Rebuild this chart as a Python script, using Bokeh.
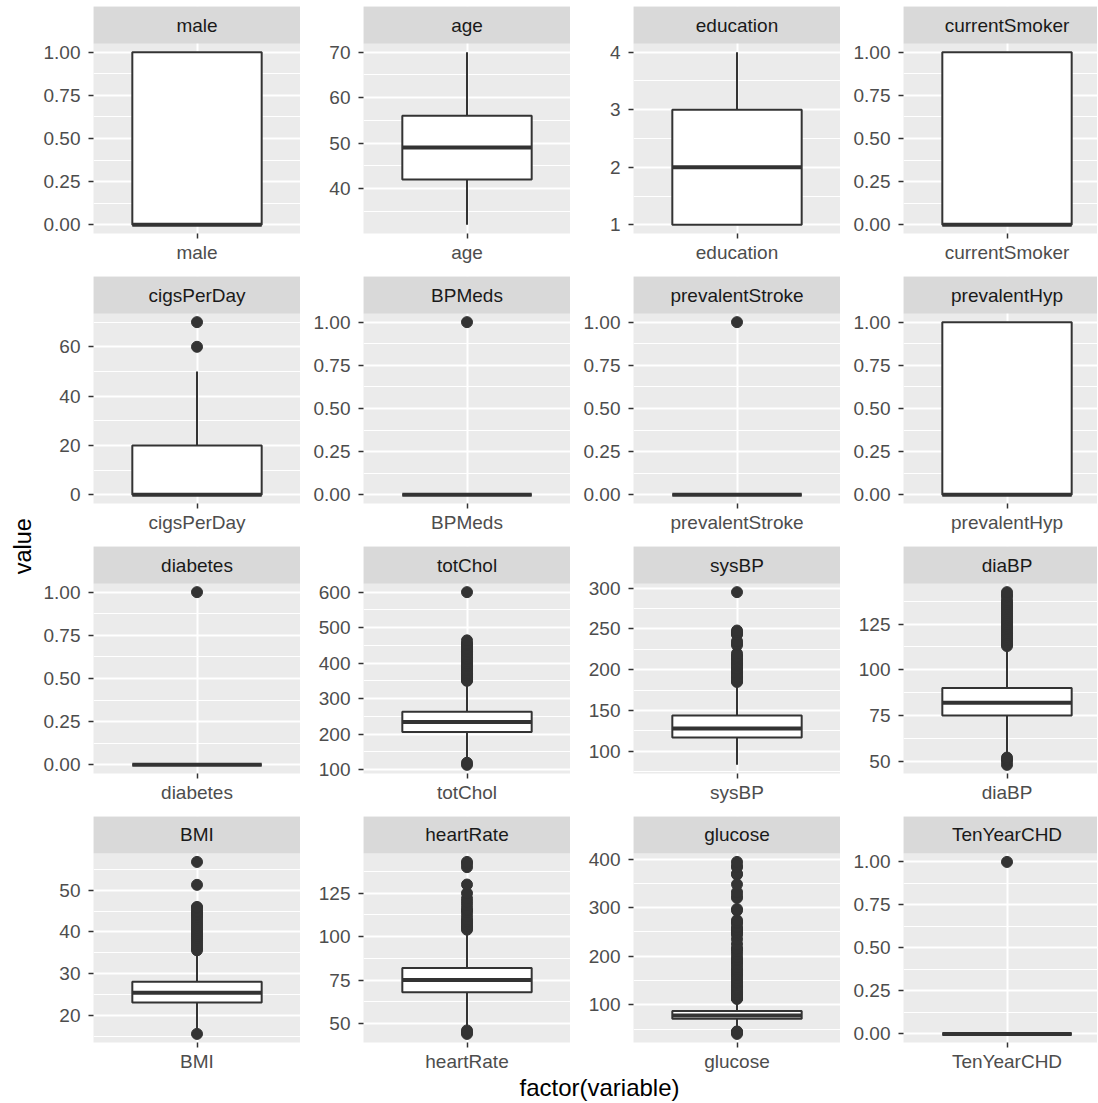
import math
from bokeh.plotting import figure
from bokeh.layouts import row, column
from bokeh.models import Range1d, FixedTicker, PrintfTickFormatter, Label
from bokeh.embed import file_html
from bokeh.resources import INLINE

# ---------------- data ----------------
variables = ["male", "age", "education", "currentSmoker",
             "cigsPerDay", "BPMeds", "prevalentStroke", "prevalentHyp",
             "diabetes", "totChol", "sysBP", "diaBP",
             "BMI", "heartRate", "glucose", "TenYearCHD"]

lower_whisker = [0, 32, 1, 0, 0, 0, 0, 0, 0, 126, 83.5, 53, 15.96, 47, 47, 0]
q1            = [0, 42, 1, 0, 0, 0, 0, 0, 0, 206, 117, 75, 23.07, 68, 71, 0]
median        = [0, 49, 2, 0, 0, 0, 0, 0, 0, 234, 128, 82, 25.4, 75, 78, 0]
q3            = [1, 56, 3, 1, 20, 0, 0, 1, 0, 263, 144, 90, 28.04, 82, 87, 0]
upper_whisker = [1, 70, 4, 1, 50, 0, 0, 1, 0, 348, 184.5, 112.5, 35.5, 103, 111, 0]

outliers = [
    [],                                   # male
    [],                                   # age
    [],                                   # education
    [],                                   # currentSmoker
    [60, 70],                             # cigsPerDay
    [1],                                  # BPMeds
    [1],                                  # prevalentStroke
    [],                                   # prevalentHyp
    [1],                                  # diabetes
    [113, 119, 350, 352, 354, 355, 358, 360, 362, 363, 366, 367, 368, 370,
     371, 372, 375, 380, 382, 385, 390, 391, 392, 393, 398, 400, 405, 410,
     412, 415, 420, 425, 430, 432, 433, 439, 443, 450, 453, 455, 464, 600],  # totChol
    [185, 186, 187, 188, 189, 190, 191, 192, 193, 194, 195, 196, 197, 198,
     199, 200, 201, 202, 204, 205, 206, 207, 208, 209, 210, 212, 213, 214,
     215, 216, 217, 220, 230, 232, 235, 243, 244, 246, 248, 295],          # sysBP
    [48, 50, 51, 52, 113, 114, 115, 116, 117, 118, 119, 120, 121, 122, 123,
     124, 125, 126, 127, 128, 129, 130, 131, 132, 133, 134, 135, 136, 137,
     138, 140, 141, 142.5],                                                # diaBP
    [15.54, 35.6, 36, 36.5, 37, 37.5, 38, 38.5, 39, 39.5, 40, 40.5, 41,
     41.5, 42, 42.5, 43, 43.5, 44, 44.3, 44.7, 45, 45.8, 46, 51.3, 56.8],   # BMI
    [44, 45, 46, 104, 105, 106, 107, 108, 109, 110, 112, 114, 115, 116, 118,
     120, 122, 125, 130, 140, 142, 143],                                   # heartRate
    [40, 43, 44, 45, 112, 113, 114, 115, 116, 117, 118, 119, 120, 121, 122,
     123, 124, 125, 126, 127, 130, 132, 135, 137, 140, 145, 147, 150, 155,
     160, 163, 166, 170, 173, 177, 183, 186, 191, 193, 198, 205, 210, 215,
     216, 225, 235, 244, 248, 250, 254, 255, 260, 268, 270, 274, 294, 297,
     320, 325, 332, 348, 368, 370, 383, 386, 394],                         # glucose
    [1],                                  # TenYearCHD
]

binary_ticks = [0, 0.25, 0.5, 0.75, 1]
y_ticks = [binary_ticks, [40, 50, 60, 70], [1, 2, 3, 4], binary_ticks,
           [0, 20, 40, 60], binary_ticks, binary_ticks, binary_ticks,
           binary_ticks, [100, 200, 300, 400, 500, 600], [100, 150, 200, 250, 300], [50, 75, 100, 125],
           [20, 30, 40, 50], [50, 75, 100, 125], [100, 200, 300, 400], binary_ticks]
y_formats = ["%.2f" if t is binary_ticks else "%d" for t in y_ticks]

# ---------------- style ----------------
FONT = "Liberation Sans"
PANEL_BG = "#EBEBEB"
STRIP_BG = "#D9D9D9"
INK = "#333333"
TICK_TXT = "#4D4D4D"
TXT_SIZE = "19px"

PANEL_W = 207
LAST_W = 194          # last column is cut by the right edge of the picture
PANEL_H = 190
STRIP_H = 37
BOX_W = 0.75
LEFT_W = [57, 63, 63, 63]
TOP_PAD = 6
BOTTOM_H = [43, 43, 43, 31]


def frame_w(c):
    return PANEL_W if c < 3 else LAST_W


def minor_ticks(majors, lo, hi):
    step = majors[1] - majors[0]
    cands = [majors[0] - step / 2] + [m + step / 2 for m in majors]
    return [m for m in cands if lo <= m <= hi]


def make_panel(i, r, c):
    left = LEFT_W[c]
    fw = frame_w(c)
    bottom = BOTTOM_H[r]
    top = TOP_PAD if r == 0 else 0
    x_end = 0.4 + 1.2 * fw / PANEL_W
    vals = [lower_whisker[i], upper_whisker[i]] + outliers[i]
    lo, hi = min(vals), max(vals)
    span = hi - lo
    ylo, yhi = lo - 0.05 * span, hi + 0.05 * span
    # the facet strip sits on top of the panel, inside the same frame
    y_end = yhi + STRIP_H * (yhi - ylo) / PANEL_H

    p = figure(width=left + fw, height=top + STRIP_H + PANEL_H + bottom,
               x_range=Range1d(0.4, x_end), y_range=Range1d(ylo, y_end),
               toolbar_location=None, output_backend="svg",
               min_border_left=left, min_border_right=0, min_border_top=top,
               min_border_bottom=bottom,
               background_fill_color=PANEL_BG, border_fill_color="white",
               outline_line_color=None)

    yt = FixedTicker(ticks=y_ticks[i], minor_ticks=minor_ticks(y_ticks[i], ylo, yhi))
    xt = FixedTicker(ticks=[1])
    p.yaxis.ticker = yt
    p.ygrid.ticker = yt
    p.xaxis.ticker = xt
    p.xgrid.ticker = xt
    p.yaxis.formatter = PrintfTickFormatter(format=y_formats[i])
    p.xaxis.major_label_overrides = {1: variables[i]}

    for ax in (p.xaxis, p.yaxis):
        ax.axis_line_color = None
        ax.major_tick_line_color = INK
        ax.major_tick_line_width = 1.5
        ax.major_tick_in = 0
        ax.major_tick_out = 5
        ax.minor_tick_line_color = None
        ax.major_label_text_font = FONT
        ax.major_label_text_font_size = TXT_SIZE
        ax.major_label_text_color = TICK_TXT
    p.yaxis.major_label_standoff = 8
    p.xaxis.major_label_standoff = 3

    for g in (p.xgrid, p.ygrid):
        g.grid_line_color = "white"
        g.grid_line_width = 2
    p.ygrid.minor_grid_line_color = "white"
    p.ygrid.minor_grid_line_width = 1

    # whiskers
    p.segment(x0=[1, 1], y0=[q3[i], q1[i]], x1=[1, 1], y1=[upper_whisker[i], lower_whisker[i]],
              line_color=INK, line_width=2)
    # outliers
    if outliers[i]:
        p.scatter(x=[1] * len(outliers[i]), y=outliers[i], size=11,
                  fill_color=INK, line_color=INK)
    # box
    p.vbar(x=[1], width=BOX_W, bottom=[q1[i]], top=[q3[i]],
           fill_color="white", line_color=INK, line_width=2)
    # median
    p.segment(x0=[1 - BOX_W / 2], y0=[median[i]], x1=[1 + BOX_W / 2], y1=[median[i]],
              line_color=INK, line_width=4)

    # facet strip
    p.quad(left=[0.4], right=[x_end], bottom=[yhi], top=[y_end],
           fill_color=STRIP_BG, line_color=None)
    p.add_layout(Label(x=1, y=(yhi + y_end) / 2, text=variables[i], text_align="center",
                       text_baseline="middle", text_font=FONT,
                       text_font_size=TXT_SIZE, text_color="#1A1A1A"))
    return p


rows = []
for r in range(4):
    rows.append(row(*[make_panel(r * 4 + c, r, c) for c in range(4)]))
grid = column(*rows)

GRID_H = TOP_PAD + sum(STRIP_H + PANEL_H + b for b in BOTTOM_H)   # 1074
YT_W = 36
ytitle = figure(width=YT_W, height=GRID_H, x_range=Range1d(0, YT_W), y_range=Range1d(0, GRID_H),
                x_axis_location=None, y_axis_location=None, toolbar_location=None,
                output_backend="svg", min_border=0, outline_line_color=None,
                background_fill_color="white", border_fill_color="white")
ytitle.grid.visible = False
ytitle.add_layout(Label(x=22.8, y=GRID_H - 545.7, text="value", angle=math.pi / 2,
                        text_align="center", text_baseline="middle",
                        text_font=FONT, text_font_size="23.5px", text_color="black"))

XT_H = 28
XT_W = YT_W + sum(LEFT_W) + 3 * PANEL_W + LAST_W
xtitle = figure(width=XT_W, height=XT_H, x_range=Range1d(0, XT_W), y_range=Range1d(0, XT_H),
                x_axis_location=None, y_axis_location=None, toolbar_location=None,
                output_backend="svg", min_border=0, outline_line_color=None,
                background_fill_color="white", border_fill_color="white")
xtitle.grid.visible = False
xtitle.add_layout(Label(x=599, y=XT_H - (1087.4 - GRID_H), text="factor(variable)",
                        text_align="center", text_baseline="middle", text_font=FONT,
                        text_font_size="24px", text_color="black"))

layout = column(row(ytitle, grid), xtitle)

open("out.html", "w").write(file_html(layout, INLINE))
